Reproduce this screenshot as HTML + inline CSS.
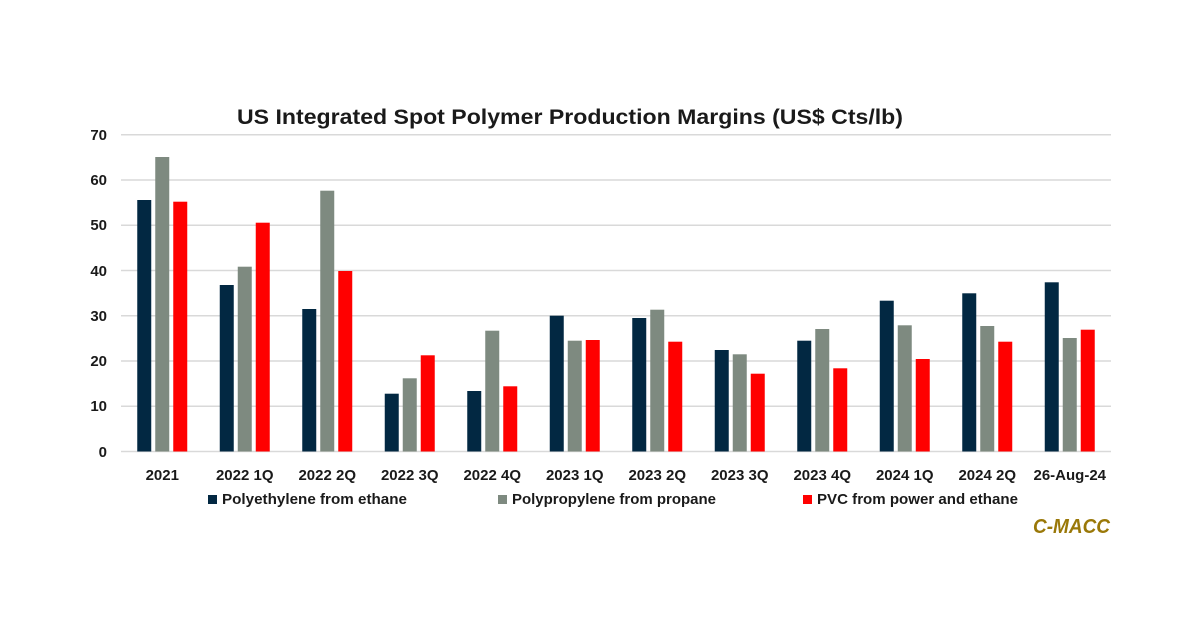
<!DOCTYPE html>
<html>
<head>
<meta charset="utf-8">
<style>
  html,body{margin:0;padding:0;background:#fff;}
  svg{display:block;}
  text{font-family:"Liberation Sans",Arial,sans-serif;font-weight:bold;fill:#1a1a1a;}
</style>
</head>
<body>
<svg width="1200" height="627" viewBox="0 0 1200 627" xmlns="http://www.w3.org/2000/svg">
  <rect width="1200" height="627" fill="#fff"/>
  <text x="237" y="124" font-size="21" textLength="666" lengthAdjust="spacingAndGlyphs">US Integrated Spot Polymer Production Margins (US$ Cts/lb)</text>

  <g stroke="#d9d9d9" stroke-width="1.5">
    <line x1="121" x2="1111" y1="134.75" y2="134.75"/>
    <line x1="121" x2="1111" y1="180" y2="180"/>
    <line x1="121" x2="1111" y1="225.25" y2="225.25"/>
    <line x1="121" x2="1111" y1="270.5" y2="270.5"/>
    <line x1="121" x2="1111" y1="315.75" y2="315.75"/>
    <line x1="121" x2="1111" y1="361" y2="361"/>
    <line x1="121" x2="1111" y1="406.25" y2="406.25"/>
    <line x1="121" x2="1111" y1="451.5" y2="451.5"/>
  </g>

  <g font-size="15" text-anchor="end">
    <text x="107" y="140">70</text>
    <text x="107" y="185">60</text>
    <text x="107" y="230">50</text>
    <text x="107" y="276">40</text>
    <text x="107" y="321">30</text>
    <text x="107" y="366">20</text>
    <text x="107" y="411">10</text>
    <text x="107" y="457">0</text>
  </g>

  <g font-size="15" text-anchor="middle">
    <text x="162.25" y="480">2021</text>
    <text x="244.75" y="480">2022 1Q</text>
    <text x="327.25" y="480">2022 2Q</text>
    <text x="409.75" y="480">2022 3Q</text>
    <text x="492.25" y="480">2022 4Q</text>
    <text x="574.75" y="480">2023 1Q</text>
    <text x="657.25" y="480">2023 2Q</text>
    <text x="739.75" y="480">2023 3Q</text>
    <text x="822.25" y="480">2023 4Q</text>
    <text x="904.75" y="480">2024 1Q</text>
    <text x="987.25" y="480">2024 2Q</text>
    <text x="1069.75" y="480">26-Aug-24</text>
  </g>

  <rect x="208" y="495" width="9" height="9" fill="#022842"/>
  <text x="222" y="504" font-size="15" textLength="185" lengthAdjust="spacingAndGlyphs">Polyethylene from ethane</text>
  <rect x="498" y="495" width="9" height="9" fill="#7e8a80"/>
  <text x="512" y="504" font-size="15" textLength="204" lengthAdjust="spacingAndGlyphs">Polypropylene from propane</text>
  <rect x="803" y="495" width="9" height="9" fill="#ff0000"/>
  <text x="817" y="504" font-size="15" textLength="201" lengthAdjust="spacingAndGlyphs">PVC from power and ethane</text>

  <text x="1033" y="533" font-size="20" font-style="italic" style="fill:#9a7808" textLength="77" lengthAdjust="spacingAndGlyphs">C-MACC</text>

  <g>
    <rect x="137.25" y="200" width="14" height="251.5" fill="#022842"/>
    <rect x="155.25" y="157" width="14" height="294.5" fill="#7e8a80"/>
    <rect x="173.25" y="201.7" width="14" height="249.8" fill="#ff0000"/>

    <rect x="219.75" y="285" width="14" height="166.5" fill="#022842"/>
    <rect x="237.75" y="266.7" width="14" height="184.8" fill="#7e8a80"/>
    <rect x="255.75" y="222.7" width="14" height="228.8" fill="#ff0000"/>

    <rect x="302.25" y="309" width="14" height="142.5" fill="#022842"/>
    <rect x="320.25" y="190.7" width="14" height="260.8" fill="#7e8a80"/>
    <rect x="338.25" y="271" width="14" height="180.5" fill="#ff0000"/>

    <rect x="384.75" y="393.7" width="14" height="57.8" fill="#022842"/>
    <rect x="402.75" y="378.3" width="14" height="73.2" fill="#7e8a80"/>
    <rect x="420.75" y="355.3" width="14" height="96.2" fill="#ff0000"/>

    <rect x="467.25" y="391" width="14" height="60.5" fill="#022842"/>
    <rect x="485.25" y="330.7" width="14" height="120.8" fill="#7e8a80"/>
    <rect x="503.25" y="386.3" width="14" height="65.2" fill="#ff0000"/>

    <rect x="549.75" y="315.7" width="14" height="135.8" fill="#022842"/>
    <rect x="567.75" y="340.7" width="14" height="110.8" fill="#7e8a80"/>
    <rect x="585.75" y="340" width="14" height="111.5" fill="#ff0000"/>

    <rect x="632.25" y="318" width="14" height="133.5" fill="#022842"/>
    <rect x="650.25" y="309.7" width="14" height="141.8" fill="#7e8a80"/>
    <rect x="668.25" y="341.7" width="14" height="109.8" fill="#ff0000"/>

    <rect x="714.75" y="350" width="14" height="101.5" fill="#022842"/>
    <rect x="732.75" y="354.3" width="14" height="97.2" fill="#7e8a80"/>
    <rect x="750.75" y="373.7" width="14" height="77.8" fill="#ff0000"/>

    <rect x="797.25" y="340.7" width="14" height="110.8" fill="#022842"/>
    <rect x="815.25" y="329" width="14" height="122.5" fill="#7e8a80"/>
    <rect x="833.25" y="368.3" width="14" height="83.2" fill="#ff0000"/>

    <rect x="879.75" y="300.7" width="14" height="150.8" fill="#022842"/>
    <rect x="897.75" y="325.3" width="14" height="126.2" fill="#7e8a80"/>
    <rect x="915.75" y="359" width="14" height="92.5" fill="#ff0000"/>

    <rect x="962.25" y="293.3" width="14" height="158.2" fill="#022842"/>
    <rect x="980.25" y="326" width="14" height="125.5" fill="#7e8a80"/>
    <rect x="998.25" y="341.7" width="14" height="109.8" fill="#ff0000"/>

    <rect x="1044.75" y="282.3" width="14" height="169.2" fill="#022842"/>
    <rect x="1062.75" y="338" width="14" height="113.5" fill="#7e8a80"/>
    <rect x="1080.75" y="329.7" width="14" height="121.8" fill="#ff0000"/>
  </g>
</svg>
</body>
</html>
